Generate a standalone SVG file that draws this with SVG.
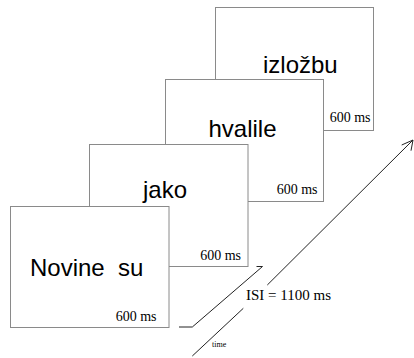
<svg xmlns="http://www.w3.org/2000/svg" width="414" height="358" viewBox="0 0 414 358">
  <style>
    .frame { fill: #ffffff; stroke: #8a8a8a; stroke-width: 1; }
    .word { font-family: "Liberation Sans", Arial, sans-serif; font-size: 24px; fill: #000; }
    .dur { font-family: "Liberation Serif", "Times New Roman", serif; font-size: 14px; fill: #000; text-anchor: end; }
    .lbl { font-family: "Liberation Serif", "Times New Roman", serif; fill: #000; }
    .ln { fill: none; stroke: #222; stroke-width: 1; }
  </style>
  <rect width="414" height="358" fill="#ffffff"/>

  <!-- stimulus frames, back to front -->
  <g id="frame-izlozbu">
    <rect class="frame" x="215.5" y="7.5" width="158" height="123"/>
    <text class="word" x="263" y="73">izložbu</text>
    <text class="dur" x="370.5" y="122">600 ms</text>
  </g>
  <g id="frame-hvalile">
    <rect class="frame" x="165.5" y="79.5" width="158" height="122"/>
    <text class="word" x="208.5" y="137">hvalile</text>
    <text class="dur" x="317.5" y="193.5">600 ms</text>
  </g>
  <g id="frame-jako">
    <rect class="frame" x="89.5" y="144.5" width="158.5" height="122"/>
    <text class="word" x="143" y="198">jako</text>
    <text class="dur" x="241" y="260">600 ms</text>
  </g>
  <g id="frame-novine">
    <rect class="frame" x="10.5" y="206.5" width="158.5" height="121"/>
    <text class="word" x="30" y="276" xml:space="preserve">Novine  su</text>
    <text class="dur" x="156.5" y="321">600 ms</text>
  </g>

  <!-- time axis and inter-stimulus arrow -->
  <g id="connectors">
    <path class="ln" d="M179 327 H192.3 L262.5 266.5 M262.5 266.5 H256.5"/>
    <path class="ln" d="M192.3 356 L243.3 308.3 M267.3 285 L413 140 M413 140 L401.7 145 M413 140 L411 150.7"/>
  </g>

  <g id="labels">
    <text class="lbl" x="246" y="300" font-size="15">ISI = 1100 ms</text>
    <text class="lbl" x="212" y="347" font-size="8">time</text>
  </g>
</svg>
